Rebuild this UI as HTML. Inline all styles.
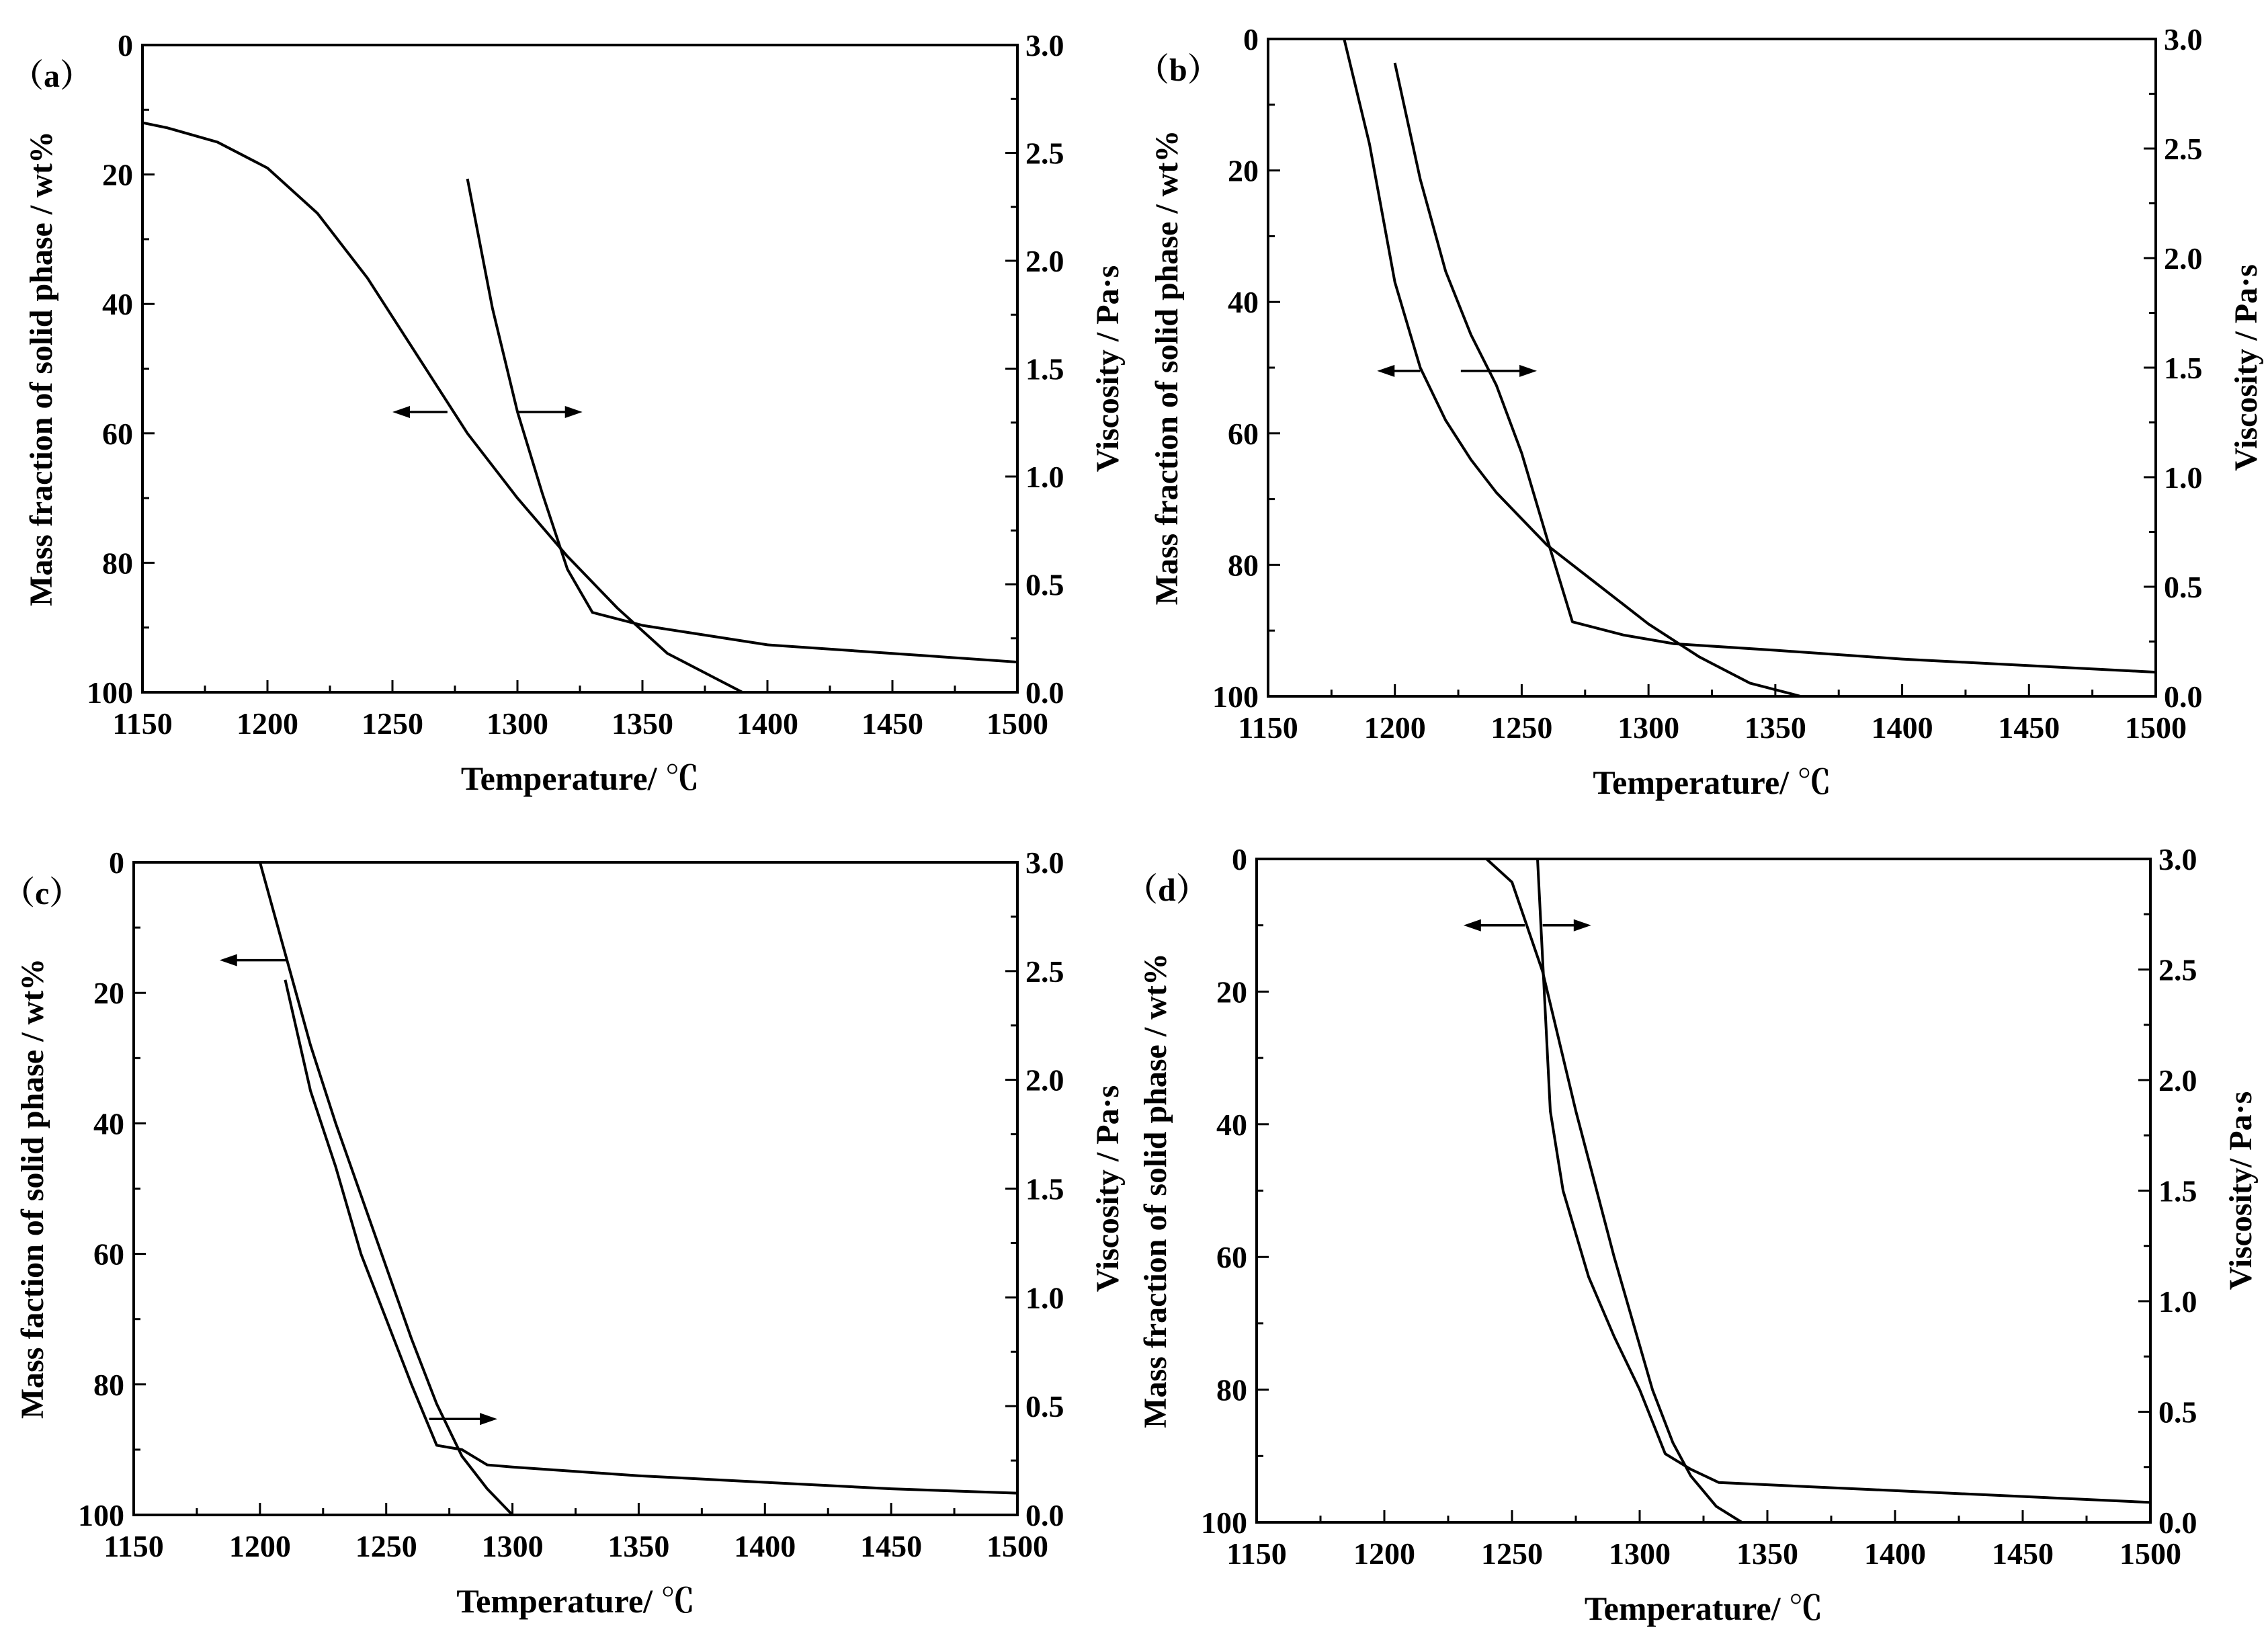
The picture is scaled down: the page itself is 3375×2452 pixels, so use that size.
<!DOCTYPE html>
<html><head><meta charset="utf-8"><style>
html,body{margin:0;padding:0;background:#fff}
svg{display:block}
text{font-family:"Liberation Serif","Noto Serif CJK SC",serif;font-weight:bold;fill:#000}
</style></head><body>
<svg id="fig" width="3375" height="2452" viewBox="0 0 3375 2452" xmlns="http://www.w3.org/2000/svg"></svg>
<script>
// x ticks shared
const xTicks = [1150,1200,1250,1300,1350,1400,1450,1500];
const yLeftTicks = [0,20,40,60,80,100];
const yRightTicks = ["0.0","0.5","1.0","1.5","2.0","2.5","3.0"];

// panel a
const aSolidT = [1150,1160,1180,1200,1220,1240,1260,1280,1300,1320,1340,1360,1380,1390];
const aSolidV = [12,12.8,15,19,26,36,48,60,70,79,87,94,98,100];
const aViscT = [1280,1290,1300,1310,1320,1330,1350,1400,1450,1500];
const aViscV = [2.38,1.78,1.3,0.92,0.57,0.37,0.31,0.22,0.18,0.14];
// panel b
const bSolidT = [1180,1190,1200,1210,1220,1230,1240,1260,1280,1300,1320,1340,1360];
const bSolidV = [0,16,37,50,58,64,69,77,83,89,94,98,100];
const bViscT = [1200,1210,1220,1230,1240,1250,1260,1270,1290,1310,1350,1400,1500];
const bViscV = [2.89,2.36,1.94,1.65,1.42,1.11,0.72,0.34,0.28,0.24,0.21,0.17,0.11];
// panel c
const cSolidT = [1200,1210,1220,1230,1240,1250,1260,1270,1280,1290,1300];
const cSolidV = [0,14,28,40,51,62,73,83,91,96,100];
const cViscT = [1210,1220,1230,1240,1250,1260,1270,1280,1290,1300,1350,1400,1450,1500];
const cViscV = [2.46,1.95,1.6,1.2,0.9,0.6,0.32,0.30,0.23,0.22,0.18,0.15,0.12,0.10];
// panel d
const dSolidT = [1240,1250,1262,1275,1290,1305,1313,1320,1330,1340];
const dSolidV = [0,3.5,17,38,60,80,88,93,97.6,100];
const dViscT = [1260,1265,1270,1280,1290,1300,1310,1320,1331,1500];
const dViscV = [3.0,1.86,1.5,1.11,0.84,0.6,0.31,0.24,0.18,0.09];

const svg = document.getElementById('fig');
const NS = 'http://www.w3.org/2000/svg';
function mk(tag, attrs, parent){const e=document.createElementNS(NS,tag);for(const k in attrs)e.setAttribute(k,attrs[k]);(parent||svg).appendChild(e);return e;}

const panels = [
 {id:'a',x0:212,x1:1514,y0:67,y1:1030,solidT:aSolidT,solidV:aSolidV,viscT:aViscT,viscV:aViscV,
  yTitle:'Mass fraction of solid phase / wt%',rTitle:'Viscosity / Pa·s',
  arrL:[1272,1250,56.7],arrR:[1300,1326,56.7]},
 {id:'b',x0:1887,x1:3208,y0:58,y1:1036,solidT:bSolidT,solidV:bSolidV,viscT:bViscT,viscV:bViscV,
  yTitle:'Mass fraction of solid phase / wt%',rTitle:'Viscosity / Pa·s',
  arrL:[1210,1193,50.5],arrR:[1226,1256,50.5]},
 {id:'c',x0:199,x1:1514,y0:1283,y1:2254,solidT:cSolidT,solidV:cSolidV,viscT:cViscT,viscV:cViscV,
  yTitle:'Mass faction of solid phase / wt%',rTitle:'Viscosity / Pa·s',
  arrL:[1211,1184,15],arrR:[1267,1294,85.3]},
 {id:'d',x0:1870,x1:3200,y0:1278,y1:2265,solidT:dSolidT,solidV:dSolidV,viscT:dViscT,viscV:dViscV,
  yTitle:'Mass fraction of solid phase / wt%',rTitle:'Viscosity/ Pa·s',
  arrL:[1255,1231,10],arrR:[1262,1281,10]}
];

panels.forEach(p=>{
  const g = mk('g',{});
  
  
  const X = t => p.x0 + (t-1150)/350*(p.x1-p.x0);
  const YL = v => p.y0 + v/100*(p.y1-p.y0);
  const YR = v => p.y1 - v/3*(p.y1-p.y0);
  const frame = mk('rect',{x:p.x0,y:p.y0,width:p.x1-p.x0,height:p.y1-p.y0,fill:'none',stroke:'#000','stroke-width':4},g);
  
  
  for(let t=1150;t<=1500;t+=25){
    const major = (t%50===0);
    mk('line',{x1:X(t),x2:X(t),y1:p.y1,y2:p.y1-(major?18:10),stroke:'#000','stroke-width':3},g);
  }
  xTicks.forEach(t=>{
    const e=mk('text',{x:X(t),y:p.y1+62,'text-anchor':'middle','font-size':46},g);
    e.textContent=t;
    
    
  });
  for(let v=0;v<=100;v+=10){
    const major=(v%20===0);
    mk('line',{x1:p.x0,x2:p.x0+(major?18:10),y1:YL(v),y2:YL(v),stroke:'#000','stroke-width':3},g);
  }
  yLeftTicks.forEach(v=>{
    const e=mk('text',{x:p.x0-14,y:YL(v)+16,'text-anchor':'end','font-size':46},g);
    e.textContent=v;
    
    
  });
  for(let i=0;i<=12;i++){
    const v=i*0.25, major=(i%2===0);
    mk('line',{x1:p.x1,x2:p.x1-(major?18:10),y1:YR(v),y2:YR(v),stroke:'#000','stroke-width':3},g);
  }
  yRightTicks.forEach(s=>{
    const e=mk('text',{x:p.x1+12,y:YR(parseFloat(s))+16,'text-anchor':'start','font-size':46},g);
    e.textContent=s;
    
    
  });
  const cy=(p.y0+p.y1)/2, cx=(p.x0+p.x1)/2;
  const xt=mk('text',{x:cx,y:p.y1+145,'text-anchor':'middle','font-size':50},g);
  xt.textContent='Temperature/ ℃';
  
  
  const ly=mk('text',{x:0,y:0,'text-anchor':'middle','font-size':48,transform:`translate(${p.x0-135},${cy}) rotate(-90)`},g);
  ly.textContent=p.yTitle;
  
  
  const ry=mk('text',{x:0,y:0,'text-anchor':'middle','font-size':48,transform:`translate(${p.x1+150},${cy}) rotate(-90)`},g);
  ry.textContent=p.rTitle;
  
  
  const lab=mk('text',{x:p.x0-195,y:p.y0+62,'font-size':48,'font-weight':'normal'},g);
  lab.textContent='（'+p.id+'）';
  
  
  const sp=mk('polyline',{points:p.solidT.map((t,i)=>X(t)+','+YL(p.solidV[i])).join(' '),fill:'none',stroke:'#000','stroke-width':4,'stroke-linejoin':'round'},g);
  
  
  const vp=mk('polyline',{points:p.viscT.map((t,i)=>X(t)+','+YR(p.viscV[i])).join(' '),fill:'none',stroke:'#000','stroke-width':4,'stroke-linejoin':'round'},g);
  
  
  [p.arrL,p.arrR].forEach((a,k)=>{
    const xs=X(a[0]), xe=X(a[1]), y=YL(a[2]);
    const dir = xe>xs?1:-1;
    const l=mk('line',{x1:xs,x2:xe-dir*20,y1:y,y2:y,stroke:'#000','stroke-width':3.5},g);
    
    
    mk('polygon',{points:`${xe},${y} ${xe-dir*26},${y-9} ${xe-dir*26},${y+9}`,fill:'#000'},g);
  });
});
</script>
</body></html>
